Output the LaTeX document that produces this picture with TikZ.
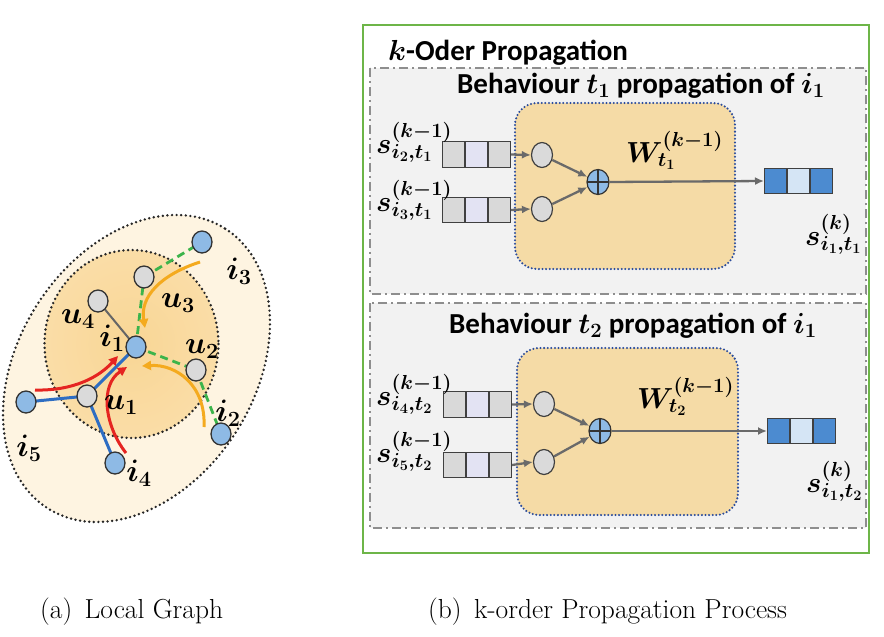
\RequirePackage{fix-cm}
\documentclass[tikz,border=0pt]{standalone}
\usepackage{fontspec}
\newfontfamily\carlito{Carlito}
\usepackage{bm}
\usetikzlibrary{shapes.geometric,arrows.meta}
\definecolor{outerfill}{HTML}{FEF4E1}
\definecolor{innerA}{HTML}{F9D695}
\definecolor{innerB}{HTML}{FADDA7}
\definecolor{nodeblue}{HTML}{8EBAE5}
\definecolor{nodegray}{HTML}{DADADA}
\definecolor{edgeblue}{HTML}{2E6DC2}
\definecolor{edgegreen}{HTML}{3CB44B}
\definecolor{arrred}{HTML}{E52421}
\definecolor{arrorange}{HTML}{F4AA1E}
\definecolor{greenframe}{HTML}{6DB548}
\definecolor{dashgray}{HTML}{8E8E8E}
\definecolor{panelfill}{HTML}{F2F2F2}
\definecolor{procfill}{HTML}{F5DBA6}
\definecolor{procborder}{HTML}{2B4C9C}
\definecolor{cellgray}{HTML}{D9D9D9}
\definecolor{celllav}{HTML}{E3E3F3}
\definecolor{cellblue}{HTML}{4C8BD0}
\definecolor{celllight}{HTML}{D5E5F5}
\definecolor{arrgray}{HTML}{6A6A6A}
\begin{document}
\begin{tikzpicture}[x=1pt,y=-1pt,
  dotline/.style={draw=black!85, line width=2.7pt, dash pattern=on 0pt off 4.6pt, line cap=round},
  gnode/.style={ellipse, draw=black!80, line width=1.3pt, minimum width=20pt, minimum height=22pt, inner sep=0pt},
  bnode/.style={gnode, fill=nodeblue},
  wnode/.style={gnode, fill=nodegray},
  glabel/.style={inner sep=0pt, font=\fontsize{31}{31}\selectfont},
  grayline/.style={draw=black!60, line width=2pt},
  blueline/.style={draw=edgeblue, line width=3pt},
  greendash/.style={draw=edgegreen, line width=2.8pt, dash pattern=on 8pt off 5pt},
  redarr/.style={draw=arrred, line width=3pt, -{Triangle[length=9pt,width=9pt]}},
  orarr/.style={draw=arrorange, line width=3pt, -{Triangle[length=9pt,width=9pt]}},
  panel/.style={draw=dashgray, fill=panelfill, line width=2.2pt, dash pattern=on 9pt off 4pt on 2pt off 4pt},
  proc/.style={draw=procborder, fill=procfill, line width=2.3pt, dash pattern=on 0pt off 3.6pt, line cap=round, rounded corners=22pt},
  cell/.style={draw=black!75, line width=1.3pt, minimum width=21.7pt, minimum height=25.5pt, inner sep=0pt, anchor=west},
  smallc/.style={ellipse, draw=black!75, line width=1.2pt, fill=nodegray, minimum width=21pt, minimum height=25pt, inner sep=0pt},
  plusc/.style={ellipse, draw=black!80, line width=1.2pt, fill=nodeblue, minimum width=22pt, minimum height=25pt, inner sep=0pt,
    path picture={\draw[black!80, line width=1.1pt] (path picture bounding box.north) -- (path picture bounding box.south)
      (path picture bounding box.west) -- (path picture bounding box.east);}},
  flow/.style={draw=arrgray, line width=2.3pt, -{Latex[length=9pt,width=8pt]}},
  mlabel/.style={inner sep=0pt, font=\fontsize{29}{29}\selectfont},
  ttl/.style={inner sep=0pt, font=\carlito\bfseries\fontsize{29}{29}\selectfont},
  captext/.style={inner sep=0pt, font=\fontsize{27.5}{27.5}\selectfont}
]
\useasboundingbox (0,0) rectangle (884,637);
\fill[white] (0,0) rectangle (884,637);

% ---------------- (a) local graph ----------------
\path[fill=outerfill, rotate around={57.6:(136.5,368.5)}] (136.5,368.5) ellipse [x radius=165.6, y radius=118.1];
\path[dotline, rotate around={57.6:(136.5,368.5)}] (136.5,368.5) ellipse [x radius=165.6, y radius=118.1];
\shade[inner color=innerA, outer color=innerB] (131.5,344) ellipse [x radius=87, y radius=94];
\path[dotline] (131.5,344) ellipse [x radius=87, y radius=94];

\coordinate (pi1) at (136,347);
\coordinate (pu4) at (98,301);
\coordinate (pu3) at (144,277);
\coordinate (pi3) at (202,242);
\coordinate (pu2) at (196,370);
\coordinate (pi2) at (221,434);
\coordinate (pu1) at (87,396);
\coordinate (pi5) at (26,402);
\coordinate (pi4) at (115,463);

\draw[grayline] (pi1) -- (pu4);
\draw[greendash] (pi1) -- (pu3);
\draw[greendash] (pu3) -- (pi3);
\draw[greendash] (pi1) -- (pu2);
\draw[greendash] (pu2) -- (pi2);
\draw[blueline] (pi1) -- (pu1);
\draw[blueline] (pu1) -- (pi5);
\draw[blueline] (pu1) -- (pi4);

\coordinate (r1s) at (35,390);
\coordinate (r1e) at (118,356);
\coordinate (r2s) at (126,453);
\coordinate (r2e) at (127,367);
\coordinate (o1s) at (200,262);
\coordinate (o1e) at (145,328);
\coordinate (o2s) at (204,427);
\coordinate (o2e) at (142,366);
\draw[redarr] (r1s) .. controls (75,391) and (100,376) .. (r1e);
\draw[redarr] (r2s) .. controls (104,425) and (100,385) .. (r2e);
\draw[orarr] (o1s) .. controls (160,275) and (140,297) .. (o1e);
\draw[orarr] (o2s) .. controls (206,385) and (176,364) .. (o2e);

\node[bnode] (i1) at (pi1) {};
\node[wnode] (u4) at (pu4) {};
\node[wnode] (u3) at (pu3) {};
\node[bnode] (i3) at (pi3) {};
\node[wnode] (u2) at (pu2) {};
\node[bnode] (i2) at (pi2) {};
\node[wnode] (u1) at (pu1) {};
\node[bnode] (i5) at (pi5) {};
\node[bnode] (i4) at (pi4) {};

\node[glabel] (lu4) at (78,319) {$\bm{u_4}$};
\node[glabel] (li1) at (112,338) {$\bm{i_1}$};
\node[glabel] (lu3) at (178,303) {$\bm{u_3}$};
\node[glabel] (li3) at (239,271) {$\bm{i_3}$};
\node[glabel] (lu2) at (202,349) {$\bm{u_2}$};
\node[glabel] (li2) at (228,413) {$\bm{i_2}$};
\node[glabel] (lu1) at (121,405) {$\bm{u_1}$};
\node[glabel] (li5) at (29,448) {$\bm{i_5}$};
\node[glabel] (li4) at (139,473) {$\bm{i_4}$};

% ---------------- (b) propagation ----------------
\draw[draw=greenframe, line width=2.8pt] (363,25) rectangle (869,553);
\node[ttl, anchor=base west] (title) at (388,60) {$\bm{k}$-Oder Propagation};

\path[panel] (370,68) rectangle (866,294);
\path[panel] (370,303) rectangle (866,528);

\node[ttl, anchor=base] (t1title) at (641,93) {Behaviour $\bm{t_1}$ propagation of $\bm{i_1}$};
\node[ttl, anchor=base] (t2title) at (633,333) {Behaviour $\bm{t_2}$ propagation of $\bm{i_1}$};

\path[proc] (515,103) rectangle (735,269);
\path[proc] (517,348) rectangle (738,515);

% box 1
\node[cell, fill=cellgray] (a1) at (442,154.5) {};
\node[cell, fill=celllav] (a2) at (a1.east) {};
\node[cell, fill=cellgray] (a3) at (a2.east) {};
\node[cell, fill=cellgray] (b1) at (442,210) {};
\node[cell, fill=celllav] (b2) at (b1.east) {};
\node[cell, fill=cellgray] (b3) at (b2.east) {};
\node[cell, fill=cellblue] (o1) at (764,181) {};
\node[cell, fill=celllight] (o2) at (o1.east) {};
\node[cell, fill=cellblue] (o3) at (o2.east) {};
\node[smallc] (c1) at (542,155) {};
\node[smallc] (c2) at (542,209) {};
\node[plusc] (p1) at (598,182) {};
\draw[flow] (a3.east) -- (c1.west);
\draw[flow] (b3.east) -- (c2.west);
\draw[flow] (c1) -- (p1);
\draw[flow] (c2) -- (p1);
\draw[flow] (p1.east) -- (o1.west);
\node[mlabel, anchor=base west] (sa) at (376,153) {$\bm{s^{(k-1)}_{i_2,t_1}}$};
\node[mlabel, anchor=base west] (sb) at (376,211) {$\bm{s^{(k-1)}_{i_3,t_1}}$};
\node[mlabel, anchor=base west] (w1) at (626,162) {$\bm{W^{(k-1)}_{t_1}}$};
\node[mlabel, anchor=base west] (so1) at (805,245) {$\bm{s^{(k)}_{i_1,t_1}}$};

% box 2
\node[cell, fill=cellgray] (d1) at (443,404.5) {};
\node[cell, fill=celllav] (d2) at (d1.east) {};
\node[cell, fill=cellgray] (d3) at (d2.east) {};
\node[cell, fill=cellgray] (e1) at (443,465) {};
\node[cell, fill=celllav] (e2) at (e1.east) {};
\node[cell, fill=cellgray] (e3) at (e2.east) {};
\node[cell, fill=cellblue] (q1) at (767,431) {};
\node[cell, fill=celllight] (q2) at (q1.east) {};
\node[cell, fill=cellblue] (q3) at (q2.east) {};
\node[smallc] (c3) at (544,404) {};
\node[smallc] (c4) at (544,462) {};
\node[plusc] (p2) at (600,431) {};
\draw[flow] (d3.east) -- (c3.west);
\draw[flow] (e3.east) -- (c4.west);
\draw[flow] (c3) -- (p2);
\draw[flow] (c4) -- (p2);
\draw[flow] (p2.east) -- (q1.west);
\node[mlabel, anchor=base west] (sd) at (376,405) {$\bm{s^{(k-1)}_{i_4,t_2}}$};
\node[mlabel, anchor=base west] (se) at (376,462) {$\bm{s^{(k-1)}_{i_5,t_2}}$};
\node[mlabel, anchor=base west] (w2) at (637,408) {$\bm{W^{(k-1)}_{t_2}}$};
\node[mlabel, anchor=base west] (so2) at (806,492) {$\bm{s^{(k)}_{i_1,t_2}}$};

% captions
\node[captext, anchor=base west] (capa) at (40,618) {(a)\hspace{0.45em}Local Graph};
\node[captext, anchor=base west] (capb) at (428,618) {(b)\hspace{0.45em}k-order Propagation Process};
\end{tikzpicture}
\end{document}
